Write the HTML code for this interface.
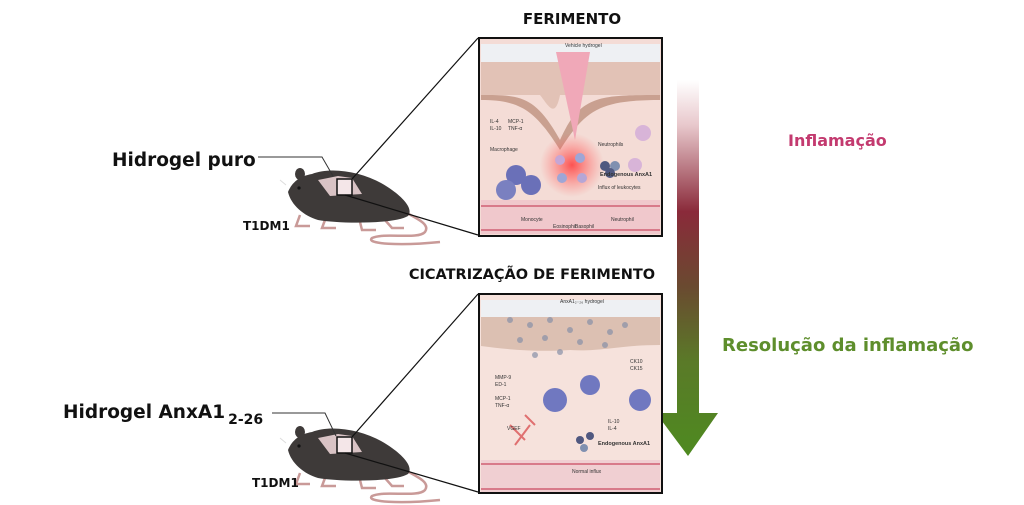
<!DOCTYPE html>
<html><head><meta charset="utf-8"><style>
html,body{margin:0;padding:0;background:#fff;}
svg{display:block;font-family:"Liberation Sans",Arial,sans-serif;}
.b{font-family:"DejaVu Sans","Liberation Sans",sans-serif;font-weight:bold;}
</style></head><body>
<svg width="1024" height="505" viewBox="0 0 1024 505" xmlns="http://www.w3.org/2000/svg">
<defs>
<linearGradient id="arr" x1="0" y1="0" x2="0" y2="1">
<stop offset="0" stop-color="#ffffff"/>
<stop offset="0.12" stop-color="#e8c8cc"/>
<stop offset="0.35" stop-color="#8a2a3a"/>
<stop offset="0.55" stop-color="#6a4a30"/>
<stop offset="0.75" stop-color="#5a7a28"/>
<stop offset="1" stop-color="#4e8a20"/>
</linearGradient>
<radialGradient id="glow" cx="0.5" cy="0.5" r="0.5">
<stop offset="0" stop-color="#ff3030" stop-opacity="0.8"/>
<stop offset="1" stop-color="#ff6060" stop-opacity="0"/>
</radialGradient>
<g id="mouse">
<path d="M405,212 C420,220 430,225 425,232 C418,240 385,232 372,238 C365,244 400,246 440,242" fill="none" stroke="#c99a98" stroke-width="2.5"/>
<path d="M300,215 L296,226 L310,226 M325,220 L322,228 L336,228 M360,222 L362,230 L376,230 M385,220 L392,228 L404,228" stroke="#c99a98" stroke-width="2.5" fill="none"/>
<path d="M288,192 C292,182 300,176 312,174 C332,166 368,172 392,190 C406,200 413,210 408,216 C395,224 340,224 318,220 C304,216 291,205 288,192 Z" fill="#3e3a39"/>
<ellipse cx="300" cy="174" rx="5" ry="6" fill="#3e3a39"/>
<path d="M286,185 L280,180" stroke="#ddd" stroke-width="1"/>
<circle cx="299" cy="188" r="1.6" fill="#111"/>
<path d="M318,180 L338,176 L352,178 L362,194 L330,196 Z" fill="#d9c3c5"/>
<rect x="337" y="179" width="15" height="16" fill="#f4e6e8" stroke="#111" stroke-width="1.5"/>
</g>
</defs>

<text x="572" y="24" font-size="15" class="b" text-anchor="middle" fill="#111">FERIMENTO</text>
<text x="532" y="279" font-size="14.5" class="b" text-anchor="middle" fill="#111">CICATRIZAÇÃO DE FERIMENTO</text>

<path d="M677,80 L699,80 L699,413 L718,413 L688,456 L656,413 L677,413 Z" fill="url(#arr)"/>
<text x="788" y="146" font-size="16" class="b" fill="#c33a6f">Inflamação</text>
<text x="722" y="351" font-size="18" class="b" fill="#5e8e2c">Resolução da inflamação</text>

<use href="#mouse"/>
<use href="#mouse" transform="translate(0,258)"/>
<text x="112" y="166" font-size="18.5" class="b" fill="#111">Hidrogel puro</text>
<polyline points="258,157 322,157 333,176" fill="none" stroke="#333" stroke-width="1"/>
<text x="243" y="230" font-size="12" class="b" fill="#111">T1DM1</text>
<text x="63" y="418" font-size="18.5" class="b" fill="#111">Hidrogel AnxA1<tspan font-size="14" dx="3" dy="6">2-26</tspan></text>
<polyline points="272,413 325,413 336,436" fill="none" stroke="#333" stroke-width="1"/>
<text x="252" y="487" font-size="12" class="b" fill="#111">T1DM1</text>

<line x1="352" y1="179" x2="478" y2="38" stroke="#111" stroke-width="1.2"/>
<line x1="345" y1="195" x2="478" y2="235" stroke="#111" stroke-width="1.2"/>
<line x1="352" y1="437" x2="478" y2="294" stroke="#111" stroke-width="1.2"/>
<line x1="345" y1="453" x2="478" y2="492" stroke="#111" stroke-width="1.2"/>

<g>
<rect x="479" y="38" width="183" height="198" fill="#f4dcd6"/>
<rect x="481" y="44" width="179" height="18" fill="#eef0f3"/>
<path d="M481,62 L660,62 L660,95 L560,95 C555,120 548,105 540,95 L481,95 Z" fill="#e2c2b6"/>
<path d="M481,95 C520,95 535,95 560,140 C580,95 600,95 660,95 L660,100 C600,100 585,110 560,150 C535,110 520,100 481,100 Z" fill="#c9a090"/>
<path d="M556,52 L590,52 L575,140 Z" fill="#f0a8b8"/>
<circle cx="572" cy="165" r="32" fill="url(#glow)"/>
<circle cx="560" cy="160" r="5" fill="#c6a6d6"/><circle cx="580" cy="158" r="5" fill="#9ea6d6"/>
<circle cx="562" cy="178" r="5" fill="#9ea6d6"/><circle cx="582" cy="178" r="5" fill="#b6a6d6"/>
<circle cx="516" cy="175" r="10" fill="#6a70b8"/><circle cx="506" cy="190" r="10" fill="#7a80c0"/><circle cx="531" cy="185" r="10" fill="#6a70b8"/>
<circle cx="643" cy="133" r="8" fill="#d8b4d8"/><circle cx="635" cy="165" r="7" fill="#d8b4d8"/>
<circle cx="605" cy="166" r="5" fill="#505880"/><circle cx="615" cy="166" r="5" fill="#8090b0"/><circle cx="610" cy="173" r="5" fill="#505880"/>
<rect x="481" y="200" width="179" height="34" fill="#f0c8cc"/>
<line x1="481" y1="206" x2="660" y2="206" stroke="#d87a8a" stroke-width="2"/>
<line x1="481" y1="230" x2="660" y2="230" stroke="#d87a8a" stroke-width="2"/>
<g font-size="5" fill="#333">
<text x="565" y="47">Vehicle hydrogel</text>
<text x="490" y="123">IL-4</text><text x="490" y="130">IL-10</text>
<text x="508" y="123">MCP-1</text><text x="508" y="130">TNF-α</text>
<text x="490" y="151">Macrophage</text>
<text x="598" y="146">Neutrophils</text>
<text x="600" y="176" font-weight="bold" font-size="5.5">Endogenous AnxA1</text>
<text x="598" y="189">Influx of leukocytes</text>
<text x="521" y="221">Monocyte</text><text x="611" y="221">Neutrophil</text>
<text x="553" y="228">Eosinophil</text><text x="575" y="228">Basophil</text>
</g>
<rect x="479" y="38" width="183" height="198" fill="none" stroke="#111" stroke-width="2"/>
</g>

<g>
<rect x="479" y="294" width="183" height="199" fill="#f6e2dc"/>
<rect x="481" y="300" width="179" height="17" fill="#eef0f3"/>
<path d="M481,317 L660,317 L660,345 C620,345 600,352 570,350 C540,352 510,350 481,346 Z" fill="#dcc0b2"/>
<g fill="#8890a8" opacity="0.7">
<circle cx="510" cy="320" r="3"/><circle cx="530" cy="325" r="3"/><circle cx="550" cy="320" r="3"/><circle cx="570" cy="330" r="3"/><circle cx="590" cy="322" r="3"/><circle cx="610" cy="332" r="3"/><circle cx="520" cy="340" r="3"/><circle cx="545" cy="338" r="3"/><circle cx="580" cy="342" r="3"/><circle cx="605" cy="345" r="3"/><circle cx="560" cy="352" r="3"/><circle cx="535" cy="355" r="3"/><circle cx="625" cy="325" r="3"/>
</g>
<circle cx="555" cy="400" r="12" fill="#7078c0"/><circle cx="590" cy="385" r="10" fill="#7078c0"/><circle cx="640" cy="400" r="11" fill="#7078c0"/>
<g stroke="#e07070" stroke-width="2" fill="none"><path d="M510,425 L525,440 M515,445 L530,425 M525,415 L535,425"/></g>
<circle cx="580" cy="440" r="4" fill="#505880"/><circle cx="590" cy="436" r="4" fill="#505880"/><circle cx="584" cy="448" r="4" fill="#8090b0"/>
<rect x="481" y="460" width="179" height="32" fill="#f0cfd2"/>
<line x1="481" y1="464" x2="660" y2="464" stroke="#d87a8a" stroke-width="2"/>
<line x1="481" y1="489" x2="660" y2="489" stroke="#d87a8a" stroke-width="2"/>
<g font-size="5" fill="#333">
<text x="560" y="303">AnxA1₂₋₂₆ hydrogel</text>
<text x="630" y="363">CK10</text><text x="630" y="370">CK15</text>
<text x="495" y="379">MMP-9</text><text x="495" y="386">ED-1</text>
<text x="495" y="400">MCP-1</text><text x="495" y="407">TNF-α</text>
<text x="507" y="430">VGEF</text>
<text x="608" y="423">IL-10</text><text x="608" y="430">IL-4</text>
<text x="598" y="445" font-weight="bold" font-size="5.5">Endogenous AnxA1</text>
<text x="572" y="473">Normal influx</text>
</g>
<rect x="479" y="294" width="183" height="199" fill="none" stroke="#111" stroke-width="2"/>
</g>
</svg>
</body></html>
